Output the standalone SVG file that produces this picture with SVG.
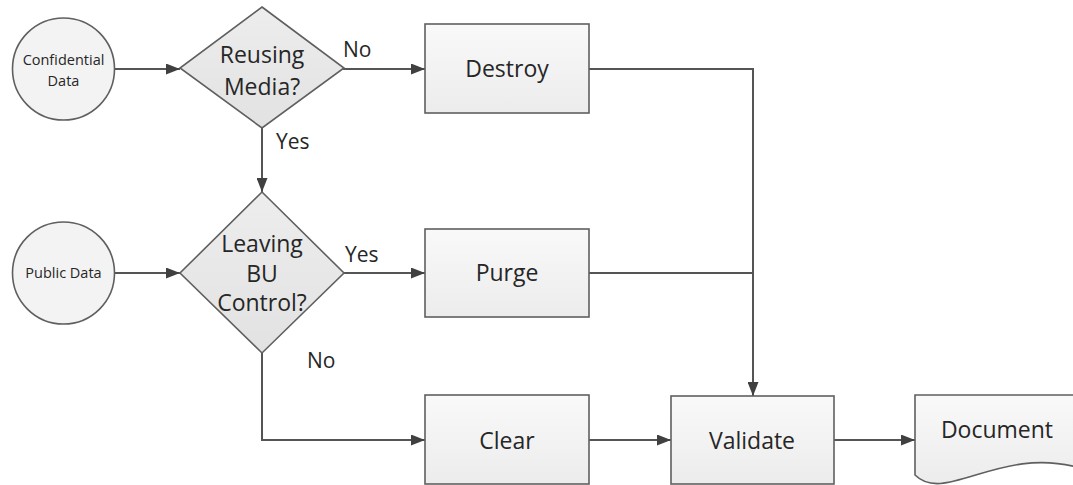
<svg xmlns="http://www.w3.org/2000/svg" width="1073" height="485" viewBox="0 0 1073 485">
<defs>
<linearGradient id="gBox" x1="0" y1="0" x2="0" y2="1">
<stop offset="0" stop-color="#f9f9f9"/>
<stop offset="1" stop-color="#ececec"/>
</linearGradient>
<linearGradient id="gDia" x1="0" y1="0" x2="0" y2="1">
<stop offset="0" stop-color="#ededed"/>
<stop offset="1" stop-color="#e2e2e2"/>
</linearGradient>
<marker id="arr" viewBox="0 0 14 11" refX="14" refY="5.5" markerWidth="14" markerHeight="11" markerUnits="userSpaceOnUse" orient="auto">
<path d="M0,0 L14,5.5 L0,11 Z" fill="#404040"/>
</marker>
</defs>
<style>
.shape{stroke:#5f5f5f;stroke-width:1.6;}
.box{fill:url(#gBox);}
.dia{fill:url(#gDia);}
.circ{fill:#f3f3f3;}
.t{font-family:"Open Sans","Noto Sans",sans-serif;fill:#262626;text-anchor:middle;}
.big{font-size:23px;}
.small{font-size:14.5px;}
.lbl{font-family:"Open Sans","Noto Sans",sans-serif;fill:#262626;font-size:21px;}
.conn{fill:none;stroke:#555;stroke-width:2;}
</style>
<rect width="1073" height="485" fill="#ffffff"/>

<g id="connectors">
<line class="conn" x1="115" y1="69" x2="180" y2="69" marker-end="url(#arr)"/>
<line class="conn" x1="115" y1="273" x2="180" y2="273" marker-end="url(#arr)"/>
<line class="conn" x1="343" y1="69" x2="425" y2="69" marker-end="url(#arr)"/>
<line class="conn" x1="262" y1="128" x2="262" y2="192" marker-end="url(#arr)"/>
<line class="conn" x1="343" y1="273" x2="425" y2="273" marker-end="url(#arr)"/>
<polyline class="conn" points="262,353 262,440 425,440" marker-end="url(#arr)"/>
<polyline class="conn" points="589,69 753,69 753,396" marker-end="url(#arr)"/>
<line class="conn" x1="589" y1="273" x2="753" y2="273"/>
<line class="conn" x1="589" y1="440" x2="671" y2="440" marker-end="url(#arr)"/>
<line class="conn" x1="834" y1="440" x2="915" y2="440" marker-end="url(#arr)"/>
<text class="lbl" x="343" y="57">No</text>
<text class="lbl" x="276" y="149">Yes</text>
<text class="lbl" x="345" y="262">Yes</text>
<text class="lbl" x="307" y="368">No</text>
</g>

<g id="confidential">
<circle class="shape circ" cx="63.5" cy="69" r="51"/>
<text class="t small" x="63.5" y="65">Confidential</text>
<text class="t small" x="63.5" y="86">Data</text>
</g>

<g id="public">
<circle class="shape circ" cx="63.5" cy="273" r="51"/>
<text class="t small" x="63.5" y="278">Public Data</text>
</g>

<g id="reusing">
<polygon class="shape dia" points="262,7 344,68 262,128 180,68"/>
<text class="t big" x="262" y="63">Reusing</text>
<text class="t big" x="262" y="95">Media?</text>
</g>

<g id="leaving">
<polygon class="shape dia" points="262,192 344,273 262,353 180,273"/>
<text class="t big" x="262" y="252">Leaving</text>
<text class="t big" x="262" y="282">BU</text>
<text class="t big" x="262" y="311">Control?</text>
</g>

<g id="destroy">
<rect class="shape box" x="425" y="24" width="164" height="89"/>
<text class="t big" x="507" y="77">Destroy</text>
</g>

<g id="purge">
<rect class="shape box" x="425" y="229" width="164" height="88"/>
<text class="t big" x="507" y="281">Purge</text>
</g>

<g id="clear">
<rect class="shape box" x="425" y="395" width="164" height="89"/>
<text class="t big" x="507" y="449">Clear</text>
</g>

<g id="validate">
<rect class="shape box" x="671" y="396" width="163" height="88"/>
<text class="t big" x="752" y="449">Validate</text>
</g>

<g id="document">
<path class="shape box" d="M915,395 H1080 V468 C1000,445 945,505 915,475 Z"/>
<text class="t big" x="997" y="438">Document</text>
</g>
</svg>
